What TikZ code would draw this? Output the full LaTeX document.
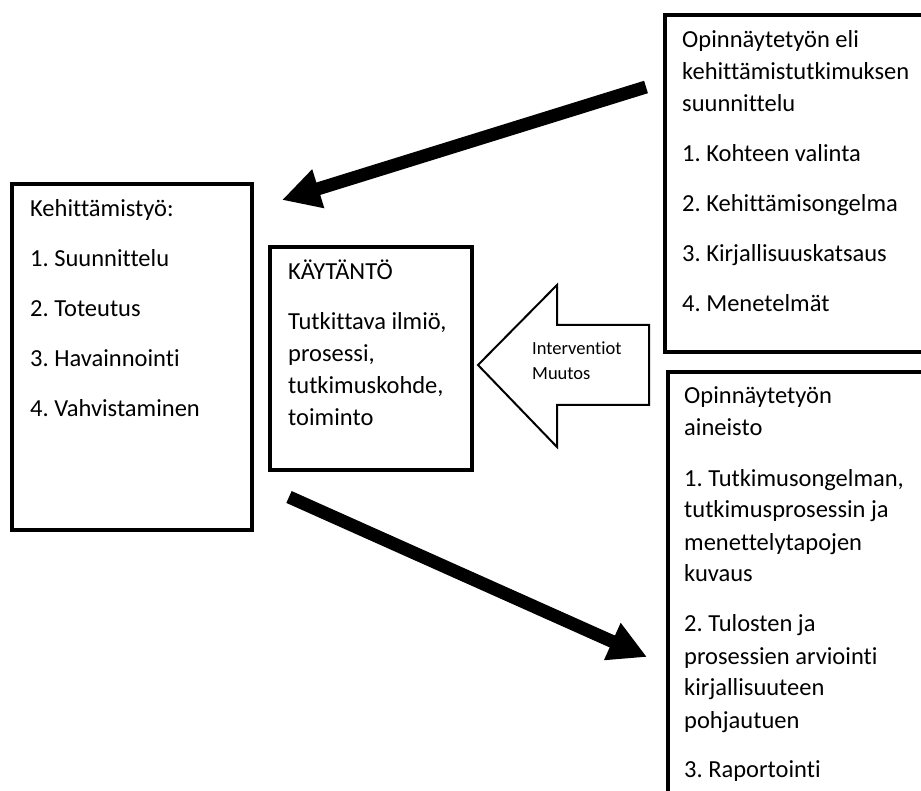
\documentclass[tikz,border=0pt]{standalone}
\usepackage{fontspec}
\setmainfont{Carlito}[Ligatures=NoCommon]
\usetikzlibrary{arrows.meta}
\frenchspacing

% Text block: first baseline sits on the node's base anchor
\newcommand\blocktext[1]{\parbox[t]{300pt}{\fontsize{24.5}{32}\selectfont
  \setlength{\parskip}{18pt}\setlength{\parindent}{0pt}\raggedright #1}}

\tikzset{
  frame/.style={draw, line width=4pt, inner sep=0pt, anchor=north west},
  body/.style={anchor=base west, inner sep=0pt},
  bigarrow/.style={line width=13pt, -{Triangle[length=38pt,width=38pt]}},
  hollow/.style={draw, line width=2pt, line join=miter, fill=white},
  small/.style={anchor=base west, inner sep=0pt, font=\fontsize{18.5}{24}\selectfont},
}

\begin{document}
\begin{tikzpicture}[x=1pt, y=-1pt]
  \useasboundingbox (0,0) rectangle (921,791);
  \clip (0,0) rectangle (921,791);
  \fill[white] (0,0) rectangle (921,791);

  % Boxes
  \node[frame, minimum width=240pt, minimum height=346pt] (dev) at (10,182) {};
  \node[frame, minimum width=202pt, minimum height=223pt] (prac) at (268,245) {};
  \node[frame, minimum width=300pt, minimum height=337pt] (plan) at (663,13) {};
  \node[frame, minimum width=300pt, minimum height=460pt] (data) at (666,370) {};

  % Box contents
  \node[body] (devtxt) at (30,217) {\blocktext{Kehittämistyö:\par
    1. Suunnittelu\par 2. Toteutus\par 3. Havainnointi\par 4. Vahvistaminen}};
  \node[body] (practxt) at (288,280) {\blocktext{KÄYTÄNTÖ\par
    Tutkittava ilmiö,\\ prosessi,\\ tutkimuskohde,\\ toiminto}};
  \node[body] (plantxt) at (682,48) {\blocktext{Opinnäytetyön eli\\
    kehittämistutkimuksen\\ suunnittelu\par
    1. Kohteen valinta\par 2. Kehittämisongelma\par
    3. Kirjallisuuskatsaus\par 4. Menetelmät}};
  \node[body] (datatxt) at (684,404) {\blocktext{Opinnäytetyön\\ aineisto\par
    1. Tutkimusongelman,\\ tutkimusprosessin ja\\ menettelytapojen\\ kuvaus\par
    2. Tulosten ja\\ prosessien arviointi\\ kirjallisuuteen\\ pohjautuen\par
    3. Raportointi}};

  % Hollow arrow pointing at the practice box
  \draw[hollow] (478,365) -- (557,285) -- (557,325) -- (649,325)
    -- (649,405) -- (557,405) -- (557,447) -- cycle;
  \node[small] (interv) at (532,355) {Interventiot};
  \node[small] (muutos) at (532,380) {Muutos};

  % Thick arrows
  \coordinate (planout) at (646,87);
  \coordinate (devin) at (282,200);
  \coordinate (devout) at (289,497);
  \coordinate (datain) at (647,657);
  \draw[bigarrow] (planout) -- (devin);
  \draw[bigarrow] (devout) -- (datain);
\end{tikzpicture}
\end{document}
